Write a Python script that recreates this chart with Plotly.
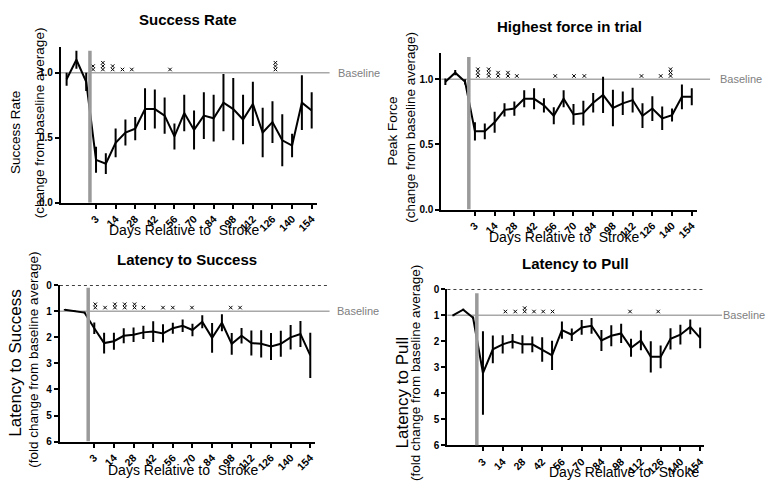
import plotly.graph_objects as go

# ---------------- data ----------------
tick_labels = ["3", "14", "28", "42", "56", "70", "84", "98", "112", "126", "140", "154"]
tick_index = [0, 2, 4, 6, 8, 10, 12, 14, 16, 18, 20, 22]
# three baseline sessions, then 23 post-stroke sessions (3, 7, 14, 21 ... 154)
x_index = [-3, -2, -1, 0, 1, 2, 3, 4, 5, 6, 7, 8, 9, 10, 11, 12, 13, 14, 15, 16, 17, 18, 19, 20, 21, 22]

success_rate = [0.95, 1.10, 0.93, 0.33, 0.30, 0.46, 0.54, 0.57, 0.72, 0.72, 0.67, 0.51, 0.69, 0.56,
                0.67, 0.65, 0.77, 0.72, 0.64, 0.76, 0.54, 0.62, 0.48, 0.44, 0.77, 0.71]
success_err = [0.05, 0.07, 0.07, 0.10, 0.08, 0.11, 0.10, 0.09, 0.16, 0.15, 0.14, 0.10, 0.14, 0.15,
               0.18, 0.18, 0.22, 0.24, 0.19, 0.17, 0.19, 0.16, 0.20, 0.09, 0.21, 0.14]

peak_force = [0.98, 1.05, 0.98, 0.60, 0.60, 0.67, 0.765, 0.775, 0.85, 0.85, 0.80, 0.72, 0.85, 0.73,
              0.74, 0.82, 0.88, 0.78, 0.815, 0.84, 0.72, 0.775, 0.70, 0.725, 0.865, 0.865]
peak_err = [0.025, 0.02, 0.02, 0.07, 0.06, 0.08, 0.05, 0.055, 0.065, 0.08, 0.055, 0.065, 0.065, 0.08,
            0.095, 0.075, 0.14, 0.14, 0.09, 0.095, 0.095, 0.095, 0.09, 0.05, 0.095, 0.065]

lat_success = [0.94, 1.0, 1.05, 1.65, 2.22, 2.15, 1.94, 1.90, 1.81, 1.78, 1.85, 1.65, 1.56, 1.72,
               1.40, 2.02, 1.44, 2.25, 1.94, 2.22, 2.25, 2.35, 2.25, 2.0, 1.87, 2.69]
lat_success_err = [0.03, 0.03, 0.03, 0.22, 0.40, 0.33, 0.29, 0.28, 0.25, 0.40, 0.35, 0.21, 0.24, 0.24,
                   0.25, 0.57, 0.33, 0.42, 0.30, 0.48, 0.52, 0.52, 0.50, 0.47, 0.50, 0.87]

lat_pull = [1.0, 0.79, 1.1, 3.22, 2.31, 2.12, 2.0, 2.12, 2.12, 2.32, 2.54, 1.57, 1.75, 1.47,
            1.41, 1.97, 1.79, 1.70, 2.25, 1.97, 2.6, 2.6, 1.91, 1.75, 1.45, 1.87]
lat_pull_err = [0.04, 0.04, 0.05, 1.6, 0.53, 0.35, 0.28, 0.35, 0.30, 0.47, 0.56, 0.33, 0.24, 0.28,
                0.30, 0.40, 0.40, 0.37, 0.35, 0.38, 0.60, 0.44, 0.41, 0.38, 0.28, 0.40]

# significance markers (position on session index, number of stars)
sig1_x = [-0.3, 0.7, 1.7, 2.7, 3.65, 7.55, 18.3]
sig1_n = [2, 3, 2, 1, 1, 1, 3]
sig2_x = [0.3, 1.4, 2.35, 3.35, 4.25, 8.15, 10.05, 11.1, 16.9, 18.85, 19.85]
sig2_n = [3, 3, 2, 2, 1, 1, 1, 1, 1, 1, 3]
sig3_x = [0.1, 1.1, 2.1, 3.1, 4.1, 5.0, 7.0, 8.0, 9.95, 13.9, 14.85]
sig3_n = [2, 1, 2, 2, 2, 1, 1, 1, 1, 1, 1]
sig4_x = [2.27, 3.27, 4.23, 5.17, 6.1, 7.05, 14.9, 17.75]
sig4_n = [1, 1, 2, 1, 1, 1, 1, 1]

titles = ["Success Rate", "Highest force in trial", "Latency to Success", "Latency to Pull"]
ytitle_line1 = ["Success Rate", "Peak Force", "Latency to Success", "Latency to Pull"]
ytitle_line2 = ["(change from baseline average)", "(change from baseline average)",
                "(fold change from baseline average)", "(fold change from baseline average)"]
xtitle = "Days Relative to  Stroke"

# ---------------- layout helpers ----------------
W, H = 766, 485
FONT = "Liberation Sans, Arial, sans-serif"


def px_x(p):
    return p / W


def px_y(p):
    return 1 - p / H


panels = [
    dict(n="", y=success_rate, e=success_err, sx=sig1_x, sn=sig1_n,
         xdom=[61, 317], ydom=[202.3, 42.7], yrange=[0, 1.2], yt=[0, 0.5, 1.0], fmt=".1f",
         xrange=[-3.58, 22.5], star_base=1.025, star_step=0.026, stroke_top=1.17,
         stroke_lbl=(-0.35, 1.215), base_end=330, base_lbl=336, zero_end=None,
         title=(188, 15), yt1=(15, 130, 13.5), yt2=(39, 120, 13.5), xtit=(184, 230)),
    dict(n="2", y=peak_force, e=peak_err, sx=sig2_x, sn=sig2_n,
         xdom=[442, 698], ydom=[209.3, 49.3], yrange=[0, 1.2], yt=[0, 0.5, 1.0], fmt=".1f",
         xrange=[-3.4, 22.54], star_base=1.025, star_step=0.026, stroke_top=1.17,
         stroke_lbl=(-0.33, 1.215), base_end=711, base_lbl=719, zero_end=None,
         title=(570, 22), yt1=(393, 129, 13.5), yt2=(411, 125, 13.5), xtit=(565, 237)),
    dict(n="3", y=lat_success, e=lat_success_err, sx=sig3_x, sn=sig3_n,
         xdom=[60, 315], ydom=[446.7, 286.7], yrange=[6, 0], yt=[0, 1, 2, 3, 4, 5, 6], fmt="d",
         xrange=[-3.5, 22.44], star_base=0.86, star_step=-0.13, stroke_top=0.1,
         stroke_lbl=(-0.34, -0.19), base_end=330, base_lbl=335, zero_end=329,
         title=(187, 260), yt1=(16, 366, 17), yt2=(34, 363, 13.5), xtit=(183, 476)),
    dict(n="4", y=lat_pull, e=lat_pull_err, sx=sig4_x, sn=sig4_n,
         xdom=[448, 705], ydom=[450.7, 290.7], yrange=[6, 0], yt=[0, 1, 2, 3, 4, 5, 6], fmt="d",
         xrange=[-3.6, 22.4], star_base=0.86, star_step=-0.13, stroke_top=0.16,
         stroke_lbl=(-0.58, -0.19), base_end=723, base_lbl=722, zero_end=706,
         title=(576, 265), yt1=(403, 396, 17), yt2=(416, 376, 13.5), xtit=(625, 478)),
]

fig = go.Figure()
layout = dict(width=W, height=H, margin=dict(l=0, r=0, t=0, b=0),
              paper_bgcolor="white", plot_bgcolor="white", showlegend=False,
              font=dict(family=FONT, color="black"))
annotations = []
shapes = []

for i, p in enumerate(panels):
    xa = "x" + p["n"]
    ya = "y" + p["n"]
    # main line with error bars
    fig.add_trace(go.Scatter(
        x=x_index, y=p["y"], xaxis=xa, yaxis=ya, mode="lines",
        line=dict(color="black", width=2),
        error_y=dict(type="data", array=p["e"], color="black", thickness=2, width=0),
        hoverinfo="x+y"))
    # significance stars (stacked)
    sx, sy = [], []
    for xv, nv in zip(p["sx"], p["sn"]):
        for k in range(nv):
            sx.append(xv)
            sy.append(p["star_base"] + k * p["star_step"])
    fig.add_trace(go.Scatter(
        x=sx, y=sy, xaxis=xa, yaxis=ya, mode="markers",
        marker=dict(symbol="x-thin-open", size=3.5, color="black", line=dict(color="black", width=1)),
        hoverinfo="skip", cliponaxis=False))

    axn = "xaxis" + p["n"]
    ayn = "yaxis" + p["n"]
    layout[axn] = dict(domain=[px_x(p["xdom"][0]), px_x(p["xdom"][1])], range=p["xrange"],
                       anchor=ya, tickmode="array", tickvals=tick_index, ticktext=tick_labels,
                       tickangle=-45, ticks="outside", ticklen=4, tickwidth=1.5, tickcolor="black",
                       showline=True, linecolor="black", linewidth=2, showgrid=False, zeroline=False,
                       tickfont=dict(family=FONT, size=10.5, color="black", weight=700))
    layout[ayn] = dict(domain=[px_y(p["ydom"][0]), px_y(p["ydom"][1])], range=p["yrange"],
                       anchor=xa, tickmode="array", tickvals=p["yt"], tickformat=p["fmt"],
                       ticks="outside", ticklen=4, tickwidth=1.5, tickcolor="black",
                       showline=True, linecolor="black", linewidth=2, showgrid=False, zeroline=False,
                       tickfont=dict(family=FONT, size=10, color="black", weight=700))

    # stroke vertical bar
    shapes.append(dict(type="line", xref=xa, yref=ya, x0=-0.62, x1=-0.62,
                       y0=p["yrange"][0], y1=p["stroke_top"],
                       line=dict(color="#9a9a9a", width=3.5), layer="above"))
    # baseline
    shapes.append(dict(type="line", xref="paper", yref=ya, x0=px_x(p["xdom"][0]), x1=px_x(p["base_end"]),
                       y0=1, y1=1, line=dict(color="#a8a8a8", width=1.5), layer="below"))
    if p["zero_end"]:
        shapes.append(dict(type="line", xref="paper", yref=ya, x0=px_x(p["xdom"][0]), x1=px_x(p["zero_end"]),
                           y0=0, y1=0, line=dict(color="black", width=1.5, dash="dot"), layer="below"))

    annotations += [
        dict(text="<b>" + titles[i] + "</b>", xref="paper", yref="paper",
             x=px_x(p["title"][0]), y=px_y(p["title"][1]), xanchor="center", yanchor="middle",
             showarrow=False, font=dict(family=FONT, size=15, color="black")),
        dict(text=ytitle_line1[i], xref="paper", yref="paper", textangle=-90,
             x=px_x(p["yt1"][0]), y=px_y(p["yt1"][1]), xanchor="center", yanchor="middle",
             showarrow=False, font=dict(family=FONT, size=p["yt1"][2], color="black")),
        dict(text=ytitle_line2[i], xref="paper", yref="paper", textangle=-90,
             x=px_x(p["yt2"][0]), y=px_y(p["yt2"][1]), xanchor="center", yanchor="middle",
             showarrow=False, font=dict(family=FONT, size=p["yt2"][2], color="black")),
        dict(text=xtitle, xref="paper", yref="paper",
             x=px_x(p["xtit"][0]), y=px_y(p["xtit"][1]), xanchor="center", yanchor="middle",
             showarrow=False, font=dict(family=FONT, size=14, color="black")),
        dict(text="Stroke", xref=xa, yref=ya, x=p["stroke_lbl"][0], y=p["stroke_lbl"][1],
             xanchor="center", yanchor="middle", showarrow=False,
             font=dict(family=FONT, size=11, color="#808080")),
        dict(text="Baseline", xref="paper", yref=ya, x=px_x(p["base_lbl"]), y=1,
             xanchor="left", yanchor="middle", showarrow=False,
             font=dict(family=FONT, size=11, color="#808080")),
    ]

layout["annotations"] = annotations
layout["shapes"] = shapes
fig.update_layout(**layout)
fig.write_html("out.html", config={"displayModeBar": False},
               post_script="document.body.style.margin='0';")
